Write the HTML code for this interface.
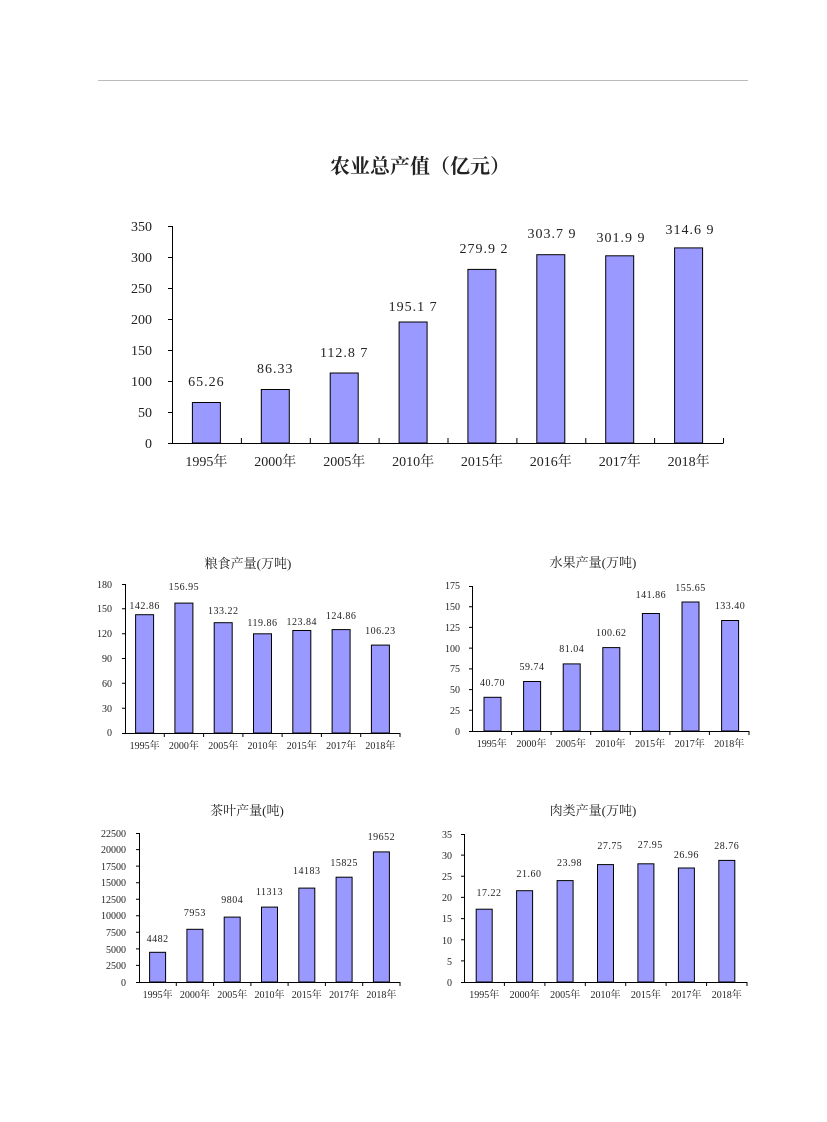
<!DOCTYPE html>
<html><head><meta charset="utf-8"><style>
body{margin:0;background:#fff}
svg{display:block}
text{font-family:"Liberation Serif","Noto Serif CJK SC","Noto Sans CJK SC",serif;fill:#222}
.b{fill:#9999ff;stroke:#000;stroke-width:1}
.ax{stroke:#000;stroke-width:1;fill:none}
.dl{letter-spacing:1px}
.ds{letter-spacing:0.5px}
</style></head><body>
<svg width="827" height="1122" viewBox="0 0 827 1122">
<line x1="98" y1="80.5" x2="748" y2="80.5" stroke="#bbb" stroke-width="1"/>
<text x="420" y="173" text-anchor="middle" font-size="20" font-weight="bold" style="font-family:'Noto Serif CJK SC','Noto Sans CJK SC',serif">农业总产值（亿元）</text>

<!-- main chart -->
<g font-size="14">
<path class="ax" d="M172.5 226V443.5H723.5M168 226.5H172M168 257.5H172M168 288.5H172M168 319.5H172M168 350.5H172M168 381.5H172M168 412.5H172M168 443.5H172M241.4 443V438M310.3 443V438M379.1 443V438M448 443V438M516.9 443V438M585.8 443V438M654.6 443V438M723.5 443V438"/>
<g text-anchor="end"><text x="152" y="448">0</text><text x="152" y="417">50</text><text x="152" y="386">100</text><text x="152" y="355">150</text><text x="152" y="324">200</text><text x="152" y="293">250</text><text x="152" y="262">300</text><text x="152" y="231">350</text></g>
<rect class="b" x="192.4" y="402.5" width="28" height="40.5"/>
<rect class="b" x="261.3" y="389.5" width="28" height="53.5"/>
<rect class="b" x="330.2" y="373" width="28" height="70"/>
<rect class="b" x="399.1" y="322" width="28" height="121"/>
<rect class="b" x="467.9" y="269.4" width="28" height="173.6"/>
<rect class="b" x="536.8" y="254.7" width="28" height="188.3"/>
<rect class="b" x="605.7" y="255.8" width="28" height="187.2"/>
<rect class="b" x="674.6" y="247.9" width="28" height="195.1"/>
<g text-anchor="middle">
<g class="dl"><text x="206.4" y="386">65.26</text><text x="275.3" y="373">86.33</text><text x="344.2" y="357">112.8 7</text><text x="413.1" y="311">195.1 7</text><text x="484" y="253">279.9 2</text><text x="552" y="238">303.7 9</text><text x="621" y="242">301.9 9</text><text x="690" y="234">314.6 9</text></g>
<text x="206.4" y="466">1995年</text><text x="275.3" y="466">2000年</text><text x="344.2" y="466">2005年</text><text x="413.1" y="466">2010年</text><text x="481.9" y="466">2015年</text><text x="550.8" y="466">2016年</text><text x="619.7" y="466">2017年</text><text x="688.6" y="466">2018年</text>
</g></g>

<!-- chart1 -->
<g font-size="10">
<text x="248" y="568" text-anchor="middle" font-size="13">粮食产量(万吨)</text>
<path class="ax" d="M125.5 584V733.5H400.5M122 584.5H125M122 608.8H125M122 633.7H125M122 658.5H125M122 683.3H125M122 708.2H125M122 733.5H125M164.3 733V737M203.6 733V737M242.9 733V737M282.1 733V737M321.4 733V737M360.7 733V737M400 733V737"/>
<g text-anchor="end"><text x="112" y="736">0</text><text x="112" y="712">30</text><text x="112" y="687">60</text><text x="112" y="662">90</text><text x="112" y="637">120</text><text x="112" y="612">150</text><text x="112" y="588">180</text></g>
<rect class="b" x="135.6" y="614.7" width="18" height="118.3"/>
<rect class="b" x="174.9" y="603.1" width="18" height="129.9"/>
<rect class="b" x="214.2" y="622.7" width="18" height="110.3"/>
<rect class="b" x="253.5" y="633.8" width="18" height="99.2"/>
<rect class="b" x="292.8" y="630.5" width="18" height="102.5"/>
<rect class="b" x="332.1" y="629.6" width="18" height="103.4"/>
<rect class="b" x="371.4" y="645.1" width="18" height="87.9"/>
<g text-anchor="middle">
<g class="ds"><text x="144.6" y="609">142.86</text><text x="183.9" y="590">156.95</text><text x="223.2" y="614">133.22</text><text x="262.5" y="626">119.86</text><text x="301.8" y="625">123.84</text><text x="341.1" y="619">124.86</text><text x="380.4" y="634">106.23</text></g>
<text x="144.6" y="749">1995年</text><text x="183.9" y="749">2000年</text><text x="223.2" y="749">2005年</text><text x="262.5" y="749">2010年</text><text x="301.8" y="749">2015年</text><text x="341.1" y="749">2017年</text><text x="380.4" y="749">2018年</text>
</g></g>

<!-- chart2 -->
<g font-size="10">
<text x="593" y="567" text-anchor="middle" font-size="13">水果产量(万吨)</text>
<path class="ax" d="M472.5 586V731.5H749.5M469 586.5H472M469 606.7H472M469 627.4H472M469 648.1H472M469 668.9H472M469 689.6H472M469 710.3H472M469 731.5H472M511.6 731V735M551.1 731V735M590.7 731V735M630.3 731V735M669.9 731V735M709.4 731V735M749 731V735"/>
<g text-anchor="end"><text x="460" y="735">0</text><text x="460" y="714">25</text><text x="460" y="693">50</text><text x="460" y="672">75</text><text x="460" y="652">100</text><text x="460" y="631">125</text><text x="460" y="610">150</text><text x="460" y="589">175</text></g>
<rect class="b" x="484" y="697.3" width="17" height="33.7"/>
<rect class="b" x="523.6" y="681.5" width="17" height="49.5"/>
<rect class="b" x="563.2" y="663.9" width="17" height="67.1"/>
<rect class="b" x="602.8" y="647.6" width="17" height="83.4"/>
<rect class="b" x="642.4" y="613.5" width="17" height="117.5"/>
<rect class="b" x="682" y="602" width="17" height="129"/>
<rect class="b" x="721.6" y="620.5" width="17" height="110.5"/>
<g text-anchor="middle">
<g class="ds"><text x="492.5" y="686">40.70</text><text x="532" y="670">59.74</text><text x="571.7" y="652">81.04</text><text x="611.3" y="636">100.62</text><text x="650.9" y="598">141.86</text><text x="690.5" y="591">155.65</text><text x="730" y="609">133.40</text></g>
<text x="491.8" y="747">1995年</text><text x="531.4" y="747">2000年</text><text x="570.9" y="747">2005年</text><text x="610.5" y="747">2010年</text><text x="650.1" y="747">2015年</text><text x="689.7" y="747">2017年</text><text x="729.3" y="747">2018年</text>
</g></g>

<!-- chart3 -->
<g font-size="10">
<text x="247" y="815" text-anchor="middle" font-size="13">茶叶产量(吨)</text>
<path class="ax" d="M139.5 833V982.5H400.5M136 833.5H139M136 849.6H139M136 866.1H139M136 882.7H139M136 899.2H139M136 915.8H139M136 932.3H139M136 948.9H139M136 965.4H139M136 982.5H139M176.3 982V986M213.6 982V986M250.9 982V986M288.1 982V986M325.4 982V986M362.7 982V986M400 982V986"/>
<g text-anchor="end"><text x="126" y="986">0</text><text x="126" y="969">2500</text><text x="126" y="953">5000</text><text x="126" y="936">7500</text><text x="126" y="919">10000</text><text x="126" y="903">12500</text><text x="126" y="886">15000</text><text x="126" y="870">17500</text><text x="126" y="853">20000</text><text x="126" y="837">22500</text></g>
<rect class="b" x="149.6" y="952.3" width="16" height="29.7"/>
<rect class="b" x="186.9" y="929.3" width="16" height="52.7"/>
<rect class="b" x="224.2" y="917.1" width="16" height="64.9"/>
<rect class="b" x="261.5" y="907.1" width="16" height="74.9"/>
<rect class="b" x="298.8" y="888.1" width="16" height="93.9"/>
<rect class="b" x="336.1" y="877.2" width="16" height="104.8"/>
<rect class="b" x="373.4" y="851.9" width="16" height="130.1"/>
<g text-anchor="middle">
<g class="ds"><text x="157.6" y="942">4482</text><text x="194.9" y="916">7953</text><text x="232.2" y="903">9804</text><text x="269.5" y="895">11313</text><text x="306.8" y="874">14183</text><text x="344.1" y="866">15825</text><text x="381.4" y="840">19652</text></g>
<text x="157.6" y="998">1995年</text><text x="194.9" y="998">2000年</text><text x="232.2" y="998">2005年</text><text x="269.5" y="998">2010年</text><text x="306.8" y="998">2015年</text><text x="344.1" y="998">2017年</text><text x="381.4" y="998">2018年</text>
</g></g>

<!-- chart4 -->
<g font-size="10">
<text x="593" y="815" text-anchor="middle" font-size="13">肉类产量(万吨)</text>
<path class="ax" d="M464.5 834V982.5H747.5M461 834.5H464M461 855.1H464M461 876.3H464M461 897.4H464M461 918.6H464M461 939.7H464M461 960.9H464M461 982.5H464M504.4 982V986M544.9 982V986M585.3 982V986M625.7 982V986M666.1 982V986M706.6 982V986M747 982V986"/>
<g text-anchor="end"><text x="452" y="986">0</text><text x="452" y="965">5</text><text x="452" y="944">10</text><text x="452" y="922">15</text><text x="452" y="901">20</text><text x="452" y="880">25</text><text x="452" y="859">30</text><text x="452" y="838">35</text></g>
<rect class="b" x="476.2" y="909.2" width="16" height="72.8"/>
<rect class="b" x="516.6" y="890.7" width="16" height="91.3"/>
<rect class="b" x="557.1" y="880.6" width="16" height="101.4"/>
<rect class="b" x="597.5" y="864.6" width="16" height="117.4"/>
<rect class="b" x="637.9" y="863.8" width="16" height="118.2"/>
<rect class="b" x="678.4" y="868" width="16" height="114"/>
<rect class="b" x="718.8" y="860.4" width="16" height="121.6"/>
<g text-anchor="middle">
<g class="ds"><text x="489" y="896">17.22</text><text x="529" y="877">21.60</text><text x="569.5" y="866">23.98</text><text x="609.9" y="849">27.75</text><text x="650.3" y="848">27.95</text><text x="686.4" y="858">26.96</text><text x="726.8" y="849">28.76</text></g>
<text x="484.2" y="998">1995年</text><text x="524.6" y="998">2000年</text><text x="565.1" y="998">2005年</text><text x="605.5" y="998">2010年</text><text x="645.9" y="998">2015年</text><text x="686.4" y="998">2017年</text><text x="726.8" y="998">2018年</text>
</g></g>
</svg>
</body></html>
